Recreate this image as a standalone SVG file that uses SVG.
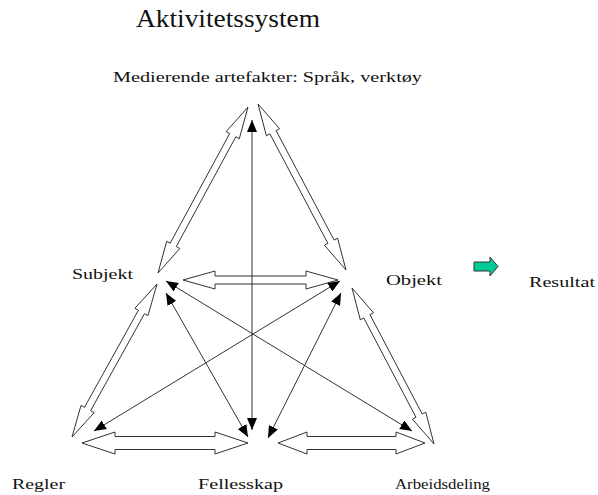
<svg xmlns="http://www.w3.org/2000/svg" width="598" height="495" viewBox="0 0 598 495">
<style>
  text { font-family: "Liberation Serif", "Times New Roman", serif; fill: #111; }
  .lbl { font-size: 15px; }
  .hollow { fill: #fff; stroke: #333; stroke-width: 1; stroke-linejoin: miter; }
  .line { stroke: #333; stroke-width: 1; fill: none; marker-start: url(#ah); marker-end: url(#ah); }
</style>
<defs>
  <marker id="ah" markerUnits="userSpaceOnUse" markerWidth="12" markerHeight="10" refX="12" refY="5" orient="auto-start-reverse">
    <path d="M0,0 L12,5 L0,10 z" fill="#000"/>
  </marker>
</defs>
<rect width="598" height="495" fill="#fff"/>

<g id="title"><text x="136" y="27" font-size="25" textLength="184" lengthAdjust="spacingAndGlyphs">Aktivitetssystem</text></g>

<g id="connectors">
  <polygon class="hollow" points="248,107 226.2,131.6 229.7,133.5 170.2,243.2 166.7,241.3 158,273 179.8,248.5 176.3,246.5 235.8,136.8 239.3,138.7"/>
  <polygon class="hollow" points="258,104 266.4,135.8 269.9,133.9 327.9,243.4 324.4,245.2 346,270 337.6,238.2 334.1,240.1 276.1,130.6 279.6,128.8"/>
  <polygon class="hollow" points="157,284 134.9,308.3 138.4,310.3 84.5,407.3 81,405.4 72,437 94.1,412.7 90.6,410.7 144.5,313.7 148,315.6"/>
  <polygon class="hollow" points="352,288 360.3,319.8 363.8,318 416,417.3 412.5,419.2 434,444 425.8,412.2 422.2,414 370,314.7 373.5,312.8"/>
  <polygon class="hollow" points="82,443 115,432 115,436.5 215,436.5 215,432 248,443 215,454 215,449.5 115,449.5 115,454"/>
  <polygon class="hollow" points="278,443 307,432 307,436.5 396,436.5 396,432 425,443 396,454 396,449.5 307,449.5 307,454"/>
  <polygon class="hollow" points="183,280 215,271 215,276 306,276 306,271 338,280 306,289 306,284 215,284 215,289"/>
  <line class="line" x1="252" y1="120" x2="252" y2="430"/>
  <line class="line" x1="166" y1="293" x2="248" y2="437"/>
  <line class="line" x1="166" y1="281" x2="412" y2="431"/>
  <line class="line" x1="340" y1="281" x2="94" y2="431"/>
  <line class="line" x1="341" y1="293" x2="268" y2="438"/>
  <polygon points="474,262 490,262 490,257 498,266.5 490,276 490,271 474,271" fill="#00cc99" stroke="#333" stroke-width="1"/>
</g>

<g id="node-mediating"><text class="lbl" x="113" y="82" font-size="14" textLength="309" lengthAdjust="spacingAndGlyphs">Medierende artefakter: Språk, verktøy</text></g>
<g id="node-subjekt"><text class="lbl" x="72" y="279" textLength="61" lengthAdjust="spacingAndGlyphs">Subjekt</text></g>
<g id="node-objekt"><text class="lbl" x="386" y="285" textLength="56" lengthAdjust="spacingAndGlyphs">Objekt</text></g>
<g id="node-resultat"><text class="lbl" x="529" y="287" textLength="66" lengthAdjust="spacingAndGlyphs">Resultat</text></g>
<g id="node-regler"><text class="lbl" x="12" y="489" textLength="53" lengthAdjust="spacingAndGlyphs">Regler</text></g>
<g id="node-fellesskap"><text class="lbl" x="198" y="489" textLength="85" lengthAdjust="spacingAndGlyphs">Fellesskap</text></g>
<g id="node-arbeidsdeling"><text class="lbl" x="395" y="489" textLength="95" lengthAdjust="spacingAndGlyphs">Arbeidsdeling</text></g>
</svg>
